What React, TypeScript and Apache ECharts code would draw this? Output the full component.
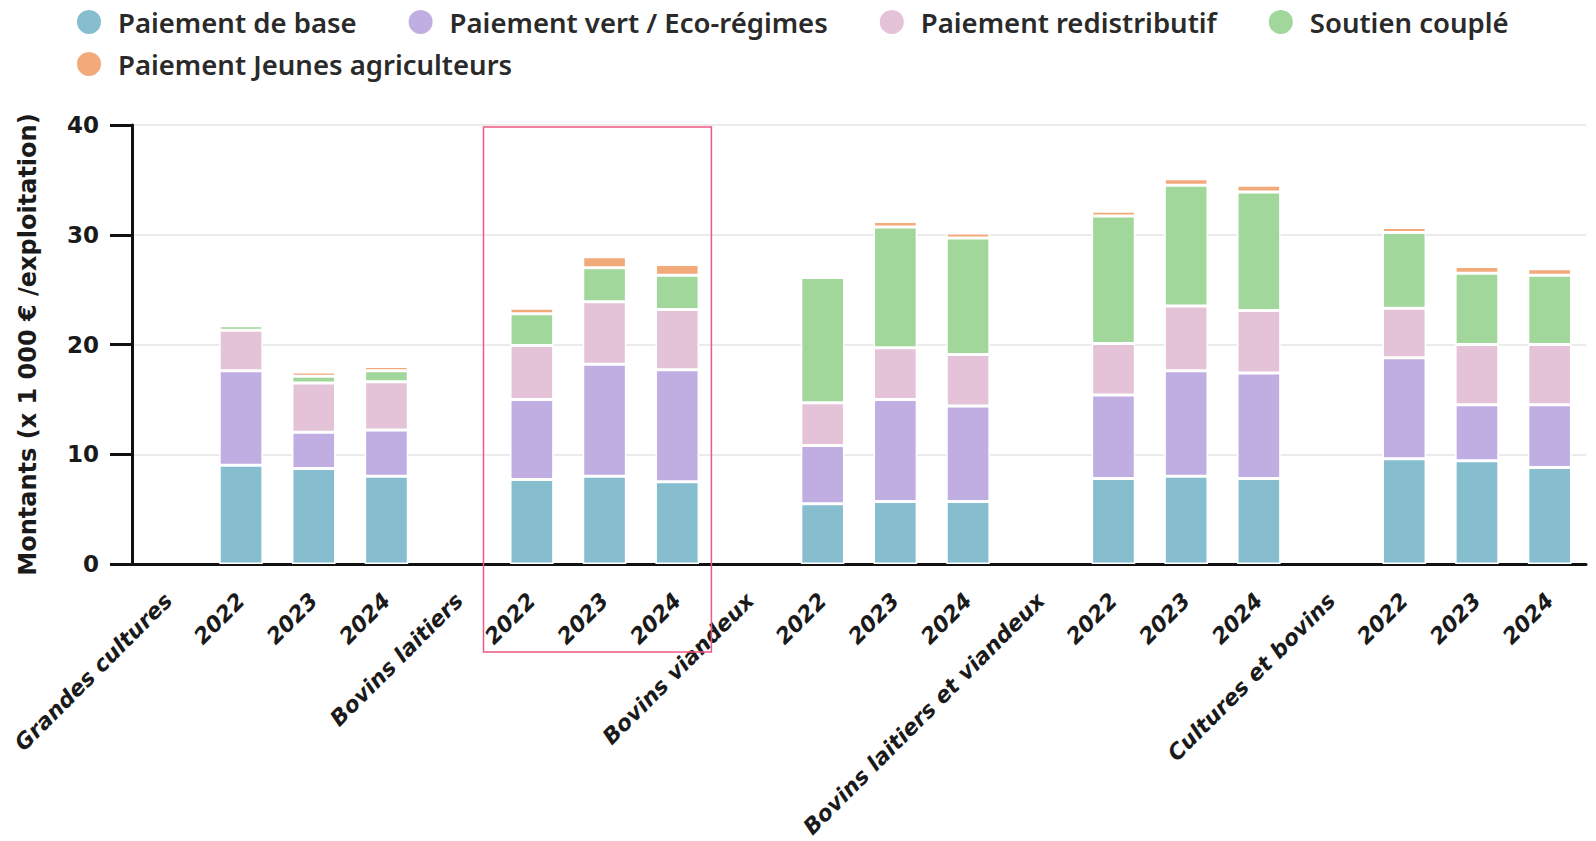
import React, { useEffect, useRef } from "react";
import * as echarts from "echarts";

const categories = [
  "Grandes cultures", "2022", "2023", "2024",
  "Bovins laitiers", "2022", "2023", "2024",
  "Bovins viandeux", "2022", "2023", "2024",
  "Bovins laitiers et viandeux", "2022", "2023", "2024",
  "Cultures et bovins", "2022", "2023", "2024",
];

const seriesNames = [
  "Paiement de base",
  "Paiement vert / Eco-régimes",
  "Paiement redistributif",
  "Soutien couplé",
  "Paiement Jeunes agriculteurs",
];

const paiementBase = [null, 9.0, 8.7, 8.0, null, 7.7, 8.0, 7.5, null, 5.5, 5.7, 5.7, null, 7.8, 8.0, 7.8, null, 9.6, 9.4, 8.8];
const paiementVert = [null, 8.6, 3.3, 4.2, null, 7.3, 10.2, 10.2, null, 5.3, 9.3, 8.7, null, 7.6, 9.6, 9.6, null, 9.2, 5.1, 5.7];
const paiementRedistributif = [null, 3.7, 4.5, 4.4, null, 4.9, 5.7, 5.5, null, 3.9, 4.7, 4.7, null, 4.7, 5.9, 5.7, null, 4.5, 5.5, 5.5];
const soutienCouple = [null, 0.4, 0.6, 1.0, null, 2.9, 3.1, 3.1, null, 11.4, 11.0, 10.6, null, 11.6, 11.0, 10.8, null, 6.9, 6.5, 6.3];
const jeunesAgriculteurs = [null, 0, 0.4, 0.4, null, 0.5, 1.0, 1.0, null, 0, 0.5, 0.45, null, 0.45, 0.6, 0.6, null, 0.45, 0.6, 0.6];

const colors = ["#86bdcf", "#c0aee2", "#e4c3d9", "#a1d79a", "#f2aa7b"];

const yAxisName = "Montants (x 1 000 € /exploitation)";

export default function App() {
  const ref = useRef<HTMLDivElement>(null);

  useEffect(() => {
    if (!ref.current) return;
    const chart = echarts.init(ref.current, null, { renderer: "svg" });
    const valuesList = [paiementBase, paiementVert, paiementRedistributif, soutienCouple, jeunesAgriculteurs];
    const legendText = {
      fontFamily: "Noto Sans",
      fontWeight: 600 as any,
      fontSize: 27.5,
      color: "#2a2a2a",
    };
    chart.setOption({
      animation: false,
      color: colors,
      legend: [
        {
          data: seriesNames.slice(0, 4),
          left: 70,
          top: 3,
          icon: "circle",
          itemWidth: 48,
          itemHeight: 26,
          itemGap: 50,
          textStyle: legendText,
        },
        {
          data: seriesNames.slice(4),
          left: 70,
          top: 45,
          icon: "circle",
          itemWidth: 48,
          itemHeight: 26,
          itemGap: 50,
          textStyle: legendText,
        },
      ],
      grid: {
        left: 132,
        right: 10,
        top: 125,
        bottom: 277,
        containLabel: false,
        outerBoundsMode: "none",
      },
      xAxis: {
        type: "category",
        data: categories,
        axisLine: { lineStyle: { color: "#111", width: 3 } },
        axisTick: { length: 23, lineStyle: { color: "#111", width: 3 } },
        axisLabel: {
          interval: 0,
          rotate: 45,
          margin: 33,
          fontFamily: "DejaVu Sans",
          fontWeight: "bold",
          fontStyle: "italic",
          fontSize: 22,
          color: "#1a1a1a",
        },
      },
      yAxis: {
        type: "value",
        min: 0,
        max: 40,
        interval: 10,
        name: yAxisName,
        nameLocation: "middle",
        nameGap: 92,
        nameTextStyle: {
          fontFamily: "DejaVu Sans",
          fontWeight: "bold",
          fontSize: 24,
          color: "#1a1a1a",
        },
        axisLine: { show: true, lineStyle: { color: "#111", width: 3 } },
        axisTick: { show: true, length: 22, lineStyle: { color: "#111", width: 3 } },
        axisLabel: {
          margin: 33,
          fontFamily: "DejaVu Sans",
          fontWeight: "bold",
          fontSize: 23,
          color: "#1a1a1a",
        },
        splitLine: { lineStyle: { color: "#ebebeb", width: 2 } },
      },
      series: seriesNames.map((name, i) => ({
        name,
        type: "bar",
        stack: "total",
        barWidth: "60%",
        data: valuesList[i],
        itemStyle: { borderColor: "#ffffff", borderWidth: 1.5 },
      })),
    });

    const p5 = chart.convertToPixel({ xAxisIndex: 0 }, 5) as number;
    const p6 = chart.convertToPixel({ xAxisIndex: 0 }, 6) as number;
    const p7 = chart.convertToPixel({ xAxisIndex: 0 }, 7) as number;
    const cw = p6 - p5;
    const yTop = chart.convertToPixel({ yAxisIndex: 0 }, 40) as number;
    const yBottom = chart.convertToPixel({ yAxisIndex: 0 }, 0) as number;
    const left = p5 - 0.665 * cw;
    const right = p7 + 0.47 * cw;
    chart.setOption({
      graphic: [
        {
          type: "rect",
          shape: { x: left, y: yTop + 2, width: right - left, height: yBottom - yTop + 86 },
          style: { fill: "none", stroke: "#ee5a80", lineWidth: 1.5 },
          z: 100,
        },
      ],
    });

    return () => chart.dispose();
  }, []);

  return (
    <div
      ref={ref}
      style={{ position: "fixed", left: 0, top: 0, width: 1596, height: 841, background: "#fff" }}
    />
  );
}
